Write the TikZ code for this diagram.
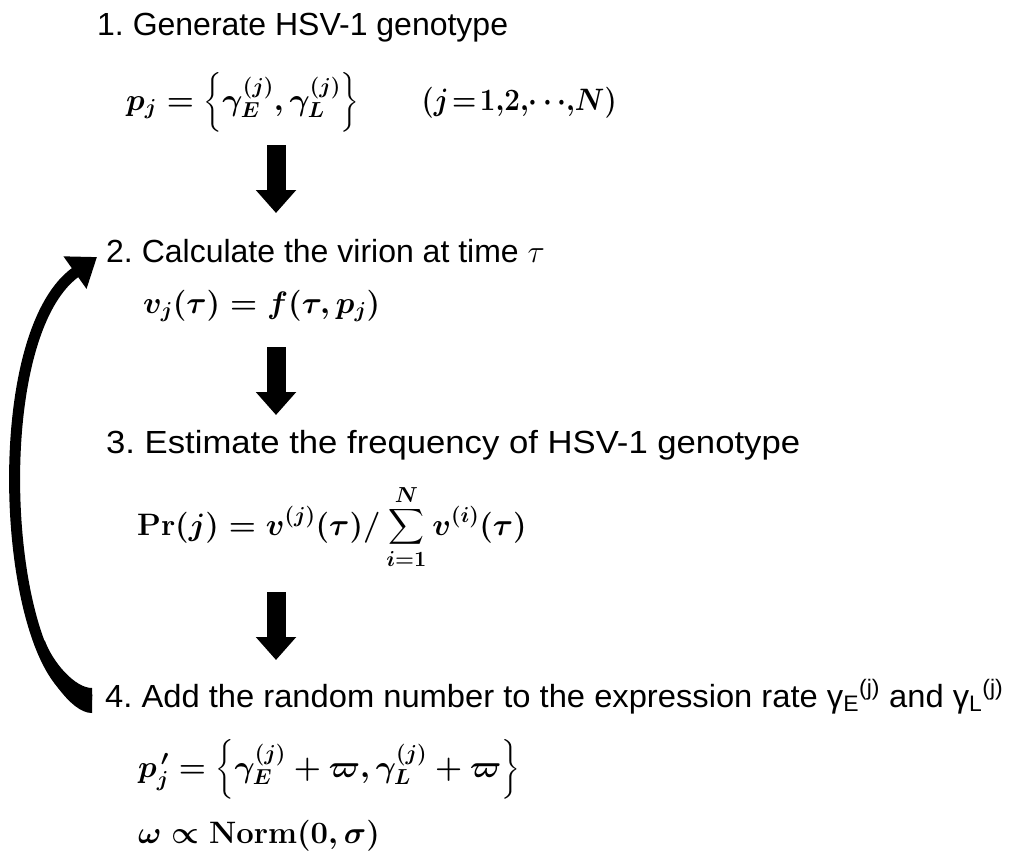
\RequirePackage{fix-cm}
\documentclass[tikz,border=0pt]{standalone}
\usepackage{fontspec}
\setmainfont{Liberation Sans}
\usepackage{amsmath}
\usepackage{graphicx}
\usetikzlibrary{arrows.meta}
\newcommand{\gexp}[1]{γ\textsubscript{#1}\textsuperscript{(j)}}
\newcommand{\fitwidth}[2]{\resizebox{#1}{\height}{#2}}

\begin{document}
\frenchspacing
\begin{tikzpicture}[
  x=1pt, y=1pt,
  steptitle/.style={anchor=base west, inner sep=0pt, font=\fontsize{32}{38}\selectfont},
  formula/.style={anchor=base west, inner sep=0pt, font=\fontsize{31}{37}\selectfont\boldmath},
  downarrow/.style={line width=19pt, -{Triangle[length=23pt,width=39pt]}},
  looparrow/.style={line width=11pt, -{Triangle[length=27pt,width=38pt]}},
  tailfill/.style={fill=black, draw=none}
]
\useasboundingbox (0,0) rectangle (1016,-851);

\node[steptitle] (gen) at (97,-36) {1. Generate HSV-1 genotype};
\node[formula] (genEq) at (126,-110)
  {$p_j=\left\{\gamma_E^{(j)},\gamma_L^{(j)}\right\}$\hspace{62pt}%
   \fitwidth{195pt}{$(j\!=\!1,\!2,\!\cdots\!,\!N)$}};

\node[steptitle] (virion) at (106,-262) {2. Calculate the virion at time $\tau$};
\node[formula] (virionEq) at (143,-313) {$v_j(\tau)=f(\tau,p_j)$};

\node[steptitle] (freq) at (106,-453)
  {\fitwidth{694pt}{3. Estimate the frequency of HSV-1 genotype}};
\node[formula] (freqEq) at (137,-535)
  {$\displaystyle \mathbf{Pr}(j)=v^{(j)}(\tau)/\sum_{i=1}^{N}v^{(i)}(\tau)$};

\node[steptitle] (mutate) at (105,-707)
  {\fitwidth{898pt}{4. Add the random number to the expression rate \gexp{E} and \gexp{L}}};
\node[formula] (mutateEq) at (138,-777)
  {$p_j^{\,\prime}=\left\{\gamma_E^{(j)}+\varpi,\gamma_L^{(j)}+\varpi\right\}$};
\node[formula] (noiseEq) at (138,-843) {$\omega\propto\mathbf{Norm}(0,\sigma)$};

\coordinate (genTop) at (276,-145);
\coordinate (genTip) at (276,-213);
\coordinate (virionTop) at (276,-347);
\coordinate (virionTip) at (276,-415);
\coordinate (freqTop) at (276,-592);
\coordinate (freqTip) at (276,-660);
\coordinate (loopTail) at ([xshift=-13pt,yshift=7pt]mutate.base west);
\coordinate (loopTip) at ([xshift=-9pt,yshift=5pt]virion.base west);

\draw[downarrow] (genTop) -- (genTip);
\draw[downarrow] (virionTop) -- (virionTip);
\draw[downarrow] (freqTop) -- (freqTip);
\draw[looparrow] (loopTail) .. controls (5,-700) and (-20,-340) .. (loopTip);
\path[tailfill] ([yshift=12pt]loopTail) .. controls (75,-688) and (52.8,-662.5) .. (44.8,-640.5)
  -- (34.4,-644.3) .. controls (44.4,-671) and (70,-713) .. ([yshift=-13pt]loopTail) -- cycle;
\end{tikzpicture}
\end{document}
